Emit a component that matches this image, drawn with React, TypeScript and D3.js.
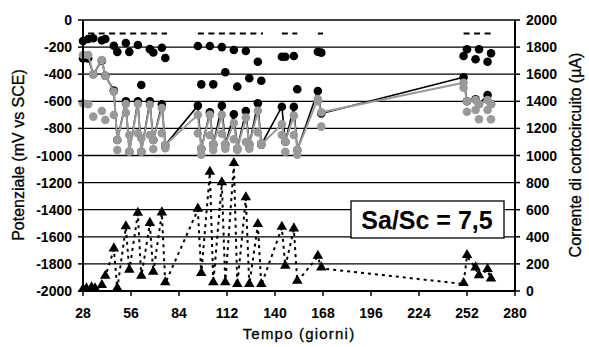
import * as d3 from "d3";

// giorni delle misure di potenziale
const days = [28, 31, 34, 39, 41, 46, 48, 53, 55, 60, 62, 67, 69, 74, 76,
  95, 97, 102, 104, 109, 111, 116, 118, 123, 125, 130, 132,
  144, 146, 151, 153, 165, 167,
  250, 252, 257, 259, 264, 266];

// potenziale libero anodo (punti neri)
const freeBlack = [-155, -140, -135, -150, -140, -190, -235, -170, -235, -185, -480, -215, -240, -205, -280,
  -192, -475, -192, -475, -200, -386, -221, -492, -229, -430, -308, -448,
  -271, -271, -266, -511, -234, -241,
  -266, -216, -290, -216, -308, -246];

// potenziale libero catodo (punti grigi)
const freeGray = [-615, -622, -713, -672, -738, -701, -959, -684, -849, -836, -873, -849, -952, -836, -947,
  -836, -995, -850, -960, -840, -950, -880, -960, -900, -950, -830, -910,
  -849, -972, -849, -995, -600, -787,
  -500, -677, -664, -733, -664, -733];

// potenziale in accoppiamento (linea nera)
const coupledBlack = [-283, -283, -400, -300, -411, -520, -886, -600, -972, -600, -972, -600, -886, -623, -922,
  -632, -950, -681, -920, -632, -920, -696, -950, -672, -920, -615, -920,
  -640, -898, -640, -959, -524, -690,
  -423, -600, -585, -620, -553, -620];

// potenziale in accoppiamento (linea grigia)
const coupledGray = [-258, -258, -400, -295, -411, -530, -886, -620, -972, -620, -972, -625, -886, -650, -922,
  -700, -950, -700, -920, -700, -920, -760, -950, -720, -920, -670, -920,
  -770, -898, -706, -959, -583, -681,
  -463, -600, -590, -620, -590, -620];

// corrente di cortocircuito (triangoli)
const currentDays = [28, 30, 33, 35, 39, 41, 46, 48, 53, 55, 60, 62, 67, 69, 74, 76,
  95, 97, 102, 104, 109, 111, 116, 118, 123, 125, 130, 132,
  144, 146, 151, 153, 165, 167,
  250, 252, 257, 259, 264, 266];
const current = [7, 12, 20, 12, 37, 105, 307, 15, 470, 150, 570, 105, 495, 135, 573, 57,
  600, 125, 873, 57, 795, 57, 937, 44, 684, 44, 487, 44,
  467, 180, 455, 69, 253, 167,
  52, 258, 167, 110, 155, 86];

// livello -100 mV (tratteggio)
const refLevel = -100;
const refStart = [31, 95, 144, 165, 250];
const refEnd = [77, 133, 153, 168, 267];

const xTicks = d3.range(28, 281, 28);
const yTicks = d3.range(0, -2001, -200);
const y2Ticks = d3.range(0, 2001, 200);

const FONT = "Liberation Sans, Arial, sans-serif";

export default function App() {
  const width = 589;
  const height = 347;
  const left = 83;
  const right = 515;
  const top = 20;
  const bottom = 291;

  const x = d3.scaleLinear().domain([28, 280]).range([left, right]);
  const y = d3.scaleLinear().domain([-2000, 0]).range([bottom, top]);
  const y2 = d3.scaleLinear().domain([0, 2000]).range([bottom, top]);

  const lineBlack = d3.line<number>().x((d, i) => x(days[i])).y((d) => y(d));
  const lineCurrent = d3.line<number>().x((d, i) => x(currentDays[i])).y((d) => y2(d));
  const tri = d3.symbol().type(d3.symbolTriangle).size(48)();

  return (
    <svg width={width} height={height} style={{ position: "absolute", left: 0, top: 0, background: "#fff" }}>
      {/* griglia */}
      {yTicks.map((v) => (
        <line key={"g" + v} x1={left} x2={right} y1={y(v)} y2={y(v)} stroke="#000" strokeWidth={1.3} />
      ))}

      {/* corrente */}
      <path d={lineCurrent(current) || ""} fill="none" stroke="#000" strokeWidth={2} strokeDasharray="3,4" />
      {current.map((v, i) => (
        <path key={"t" + i} d={tri || ""} transform={`translate(${x(currentDays[i])},${y2(v) - 1})`} fill="#000" />
      ))}

      {/* livello -100 */}
      {refStart.map((s, i) => (
        <line key={"r" + i} x1={x(s)} x2={x(refEnd[i])} y1={y(refLevel)} y2={y(refLevel)}
          stroke="#000" strokeWidth={2} strokeDasharray="6,4.5" />
      ))}

      {/* linea nera accoppiata */}
      <path d={lineBlack(coupledBlack) || ""} fill="none" stroke="#000" strokeWidth={1.6} />
      {coupledBlack.map((v, i) => (
        <circle key={"cb" + i} cx={x(days[i])} cy={y(v)} r={4.3} fill="#000" />
      ))}

      {/* punti grigi liberi */}
      {freeGray.map((v, i) => (
        <circle key={"fg" + i} cx={x(days[i])} cy={y(v)} r={4.3} fill="#999" />
      ))}

      {/* linea grigia accoppiata */}
      <path d={lineBlack(coupledGray) || ""} fill="none" stroke="#999" strokeWidth={2} />
      {coupledGray.map((v, i) => (
        <circle key={"cg" + i} cx={x(days[i])} cy={y(v)} r={4.3} fill="#999" />
      ))}

      {/* punti neri liberi */}
      {freeBlack.map((v, i) => (
        <circle key={"fb" + i} cx={x(days[i])} cy={y(v)} r={4.3} fill="#000" />
      ))}

      {/* assi */}
      <line x1={left} x2={left} y1={top} y2={bottom + 1} stroke="#000" strokeWidth={2} />
      <line x1={right} x2={right} y1={top} y2={bottom + 1} stroke="#000" strokeWidth={2} />
      <line x1={left} x2={right} y1={bottom} y2={bottom} stroke="#000" strokeWidth={2} />

      {yTicks.map((v) => (
        <g key={"yl" + v}>
          <line x1={left - 5} x2={left} y1={y(v)} y2={y(v)} stroke="#000" strokeWidth={1.5} />
          <text x={72} y={y(v)} textAnchor="end" dominantBaseline="central"
            fontFamily={FONT} fontWeight="bold" fontSize={14}>{v}</text>
        </g>
      ))}
      {y2Ticks.map((v) => (
        <g key={"yr" + v}>
          <line x1={right} x2={right + 5} y1={y2(v)} y2={y2(v)} stroke="#000" strokeWidth={1.5} />
          <text x={526} y={y2(v)} textAnchor="start" dominantBaseline="central"
            fontFamily={FONT} fontWeight="bold" fontSize={14}>{v}</text>
        </g>
      ))}
      {xTicks.map((v) => (
        <g key={"x" + v}>
          <line x1={x(v)} x2={x(v)} y1={bottom} y2={bottom + 5} stroke="#000" strokeWidth={1.5} />
          <text x={x(v)} y={318} textAnchor="middle"
            fontFamily={FONT} fontWeight="bold" fontSize={14}>{v}</text>
        </g>
      ))}

      {/* titoli */}
      <text transform={`translate(24,155) rotate(-90)`} textAnchor="middle"
        fontFamily={FONT} fontSize={16} stroke="#000" strokeWidth={0.3}>Potenziale (mV vs SCE)</text>
      <text transform={`translate(581,155) rotate(-90)`} textAnchor="middle"
        fontFamily={FONT} fontSize={16} stroke="#000" strokeWidth={0.3}>Corrente di cortocircuito (µA)</text>
      <text x={299} y={339} textAnchor="middle" fontFamily={FONT} fontSize={15} letterSpacing={1.2}
        stroke="#000" strokeWidth={0.3}>Tempo (giorni)</text>

      {/* riquadro */}
      <rect x={351} y={201} width={153} height={37} fill="#fff" stroke="#000" strokeWidth={1.3} />
      <text x={427} y={229} textAnchor="middle" fontFamily={FONT} fontWeight="bold" fontSize={25}>Sa/Sc = 7,5</text>
    </svg>
  );
}
